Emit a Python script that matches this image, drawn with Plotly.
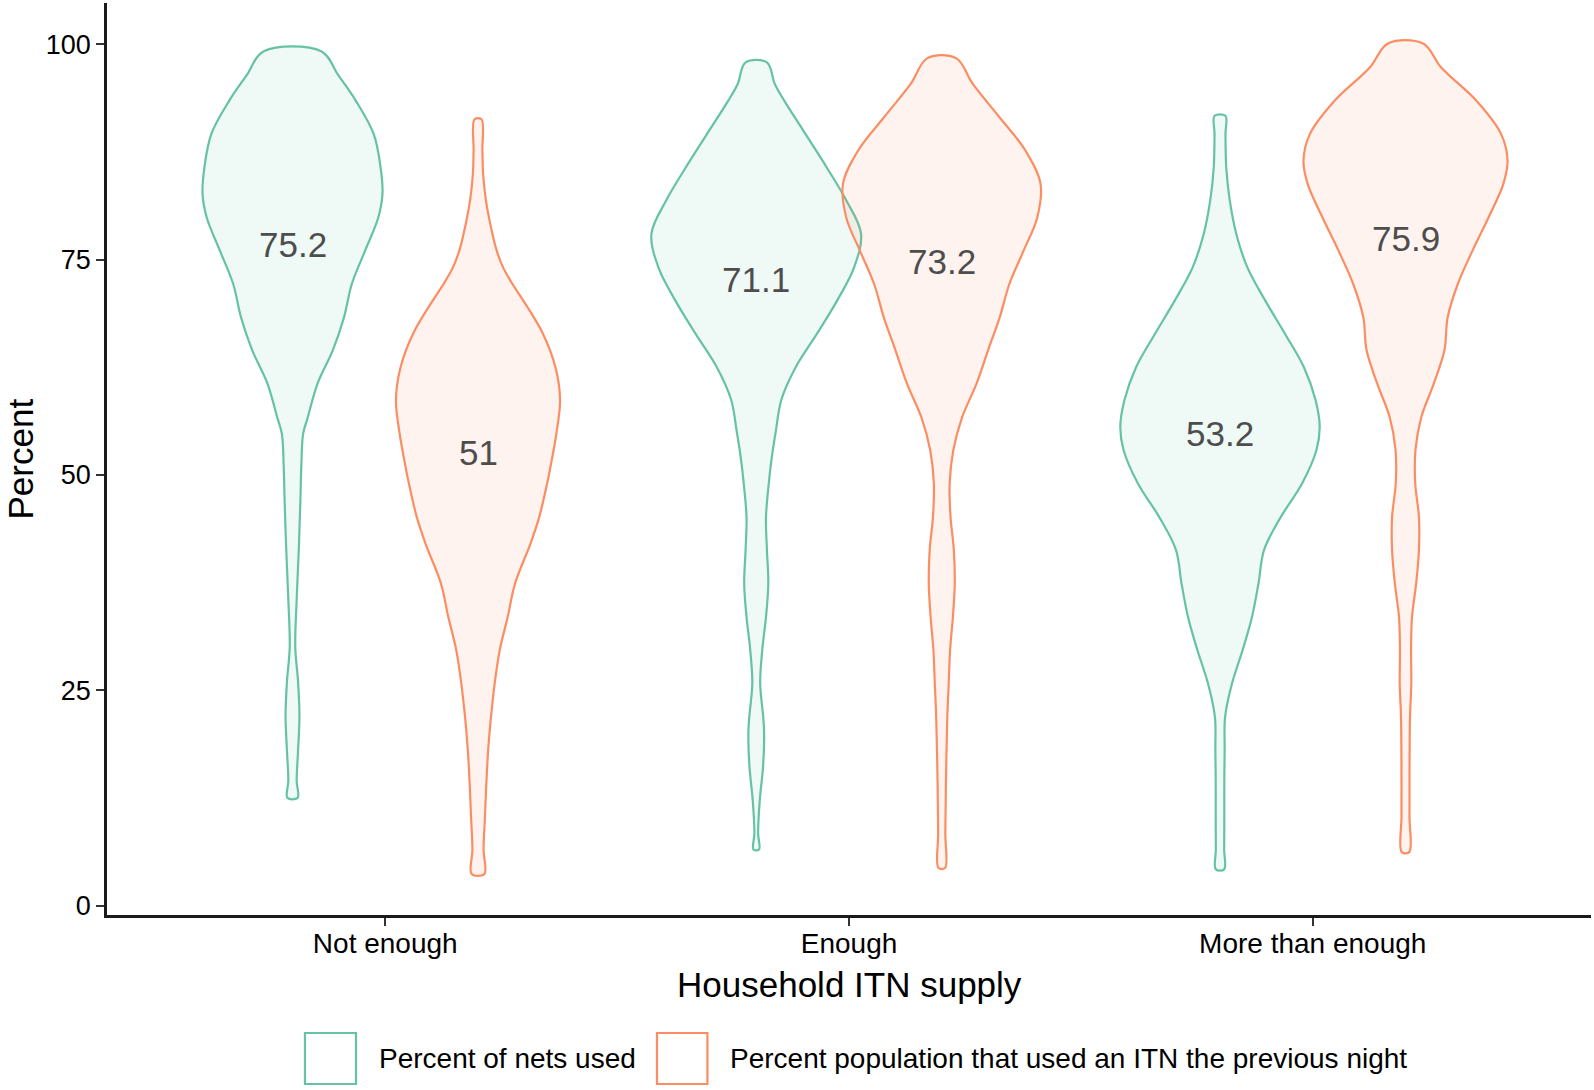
import plotly.graph_objects as go

categories = ["Not enough", "Enough", "More than enough"]
series_names = ["Percent of nets used",
                "Percent population that used an ITN the previous night"]
mean_nets = [75.2, 71.1, 53.2]
mean_pop = [51, 73.2, 75.9]
y_ticks = [0, 25, 50, 75, 100]

# Violin density profiles:
# percent levels (y) and half-width of the violin at that level (x-axis units)
nets_not_enough_y = [12.5, 14.5, 18, 22, 26, 30, 35.5, 41.3, 47, 51, 54.8, 56.7, 60.6,
                     64.5, 68.3, 72.2, 76.1, 79.9, 82.6, 85.7, 89.6, 93.5, 96.4, 99.2]
nets_not_enough_w = [0.011, 0.009, 0.012, 0.015, 0.012, 0.006, 0.009, 0.0135, 0.017, 0.019,
                     0.023, 0.033, 0.054, 0.087, 0.111, 0.128, 0.157, 0.185, 0.194, 0.19,
                     0.175, 0.136, 0.099, 0.062]

pop_not_enough_y = [3.65, 6.5, 10.3, 14.2, 18.1, 21.9, 25.8, 29.7, 33.5, 37.4, 42, 45.1,
                    49, 52.9, 54.8, 58.7, 62.5, 66.4, 70.3, 72.2, 74.1, 76.1, 78, 81.9, 85,
                    87.7, 91.3]
pop_not_enough_w = [0.0136, 0.012, 0.015, 0.018, 0.022, 0.028, 0.036, 0.047, 0.064, 0.08,
                    0.113, 0.132, 0.149, 0.163, 0.169, 0.177, 0.167, 0.14, 0.097, 0.074,
                    0.054, 0.040, 0.031, 0.017, 0.011, 0.0095, 0.0074]

nets_enough_y = [6.5, 8.4, 12.3, 16.1, 20, 21.9, 25.8, 29.7, 33.5, 37.4, 41.3, 45.1, 49,
                 51, 53, 55, 58.7, 62.5, 66.4, 70.3, 74.1, 78, 81.9, 85.7, 89.6, 93.5,
                 95.4, 97.9]
nets_enough_w = [0.006, 0.004, 0.0077, 0.0146, 0.017, 0.015, 0.0085, 0.013, 0.021, 0.026,
                 0.023, 0.021, 0.027, 0.031, 0.036, 0.042, 0.054, 0.085, 0.131, 0.175,
                 0.211, 0.226, 0.194, 0.152, 0.106, 0.06, 0.04, 0.023]

pop_enough_y = [4.35, 8.4, 14.2, 21.9, 25.8, 29.7, 33.5, 37.4, 41.3, 45.1, 49, 52.9, 56.7,
                60.6, 64.5, 68.3, 72.2, 76.1, 79.9, 83.8, 87.7, 91.5, 95.4, 98.4]
pop_enough_w = [0.007, 0.0077, 0.009, 0.012, 0.015, 0.018, 0.024, 0.028, 0.026, 0.019,
                0.017, 0.025, 0.044, 0.075, 0.1, 0.125, 0.146, 0.177, 0.206, 0.213, 0.18,
                0.125, 0.067, 0.031]

nets_more_y = [4.2, 6.5, 10.3, 14.2, 18.1, 21.9, 25.8, 29.7, 33.5, 37.4, 41.3, 45.1, 49,
               52.9, 55.6, 58.7, 62.5, 66.4, 70.3, 74.1, 78, 81.9, 85.7, 89.6, 91.7]
nets_more_w = [0.009, 0.009, 0.0093, 0.0093, 0.01, 0.011, 0.026, 0.049, 0.069, 0.083,
               0.095, 0.131, 0.177, 0.208, 0.215, 0.206, 0.181, 0.14, 0.097, 0.059, 0.035,
               0.021, 0.0135, 0.0118, 0.0118]

pop_more_y = [6.2, 10.3, 14.2, 21.9, 25.8, 29.7, 33.5, 37.4, 41.3, 45.1, 49, 52.9, 56.7,
              60.6, 64.5, 68.3, 72.2, 76.1, 79.9, 83.8, 86.5, 89.6, 93.5, 97.3, 100.1]
pop_more_w = [0.008, 0.0086, 0.0086, 0.0097, 0.0125, 0.012, 0.014, 0.023, 0.029, 0.029,
              0.021, 0.0215, 0.034, 0.061, 0.084, 0.091, 0.113, 0.145, 0.179, 0.211, 0.22,
              0.206, 0.152, 0.077, 0.038]

nets_profiles = [(nets_not_enough_y, nets_not_enough_w),
                 (nets_enough_y, nets_enough_w),
                 (nets_more_y, nets_more_w)]
pop_profiles = [(pop_not_enough_y, pop_not_enough_w),
                (pop_enough_y, pop_enough_w),
                (pop_more_y, pop_more_w)]

line_colors = ["#66C2A5", "#FC8D62"]
fill_colors = ["rgba(102,194,165,0.10)", "rgba(252,141,98,0.10)"]
DODGE = 0.2
FONT = "Liberation Sans, Arial, Helvetica, sans-serif"


def outline(center, ys, ws):
    xs = [center + w for w in ws] + [center - w for w in reversed(ws)] + [center + ws[0]]
    yy = list(ys) + list(reversed(ys)) + [ys[0]]
    return xs, yy


fig = go.Figure()
annotations = []
for s, (profiles, means) in enumerate([(nets_profiles, mean_nets), (pop_profiles, mean_pop)]):
    offset = -DODGE if s == 0 else DODGE
    for i, (ys, ws) in enumerate(profiles):
        center = i + 1 + offset
        xs, yy = outline(center, ys, ws)
        fig.add_trace(go.Scatter(
            x=xs, y=yy, mode="lines", fill="toself",
            fillcolor=fill_colors[s],
            line=dict(color=line_colors[s], width=2.2, shape="spline", smoothing=1.0),
            name=series_names[s], showlegend=False, hoverinfo="skip"))
        annotations.append(dict(
            x=center, y=means[i], xref="x", yref="y", text=str(means[i]),
            showarrow=False, yanchor="bottom", yshift=-8,
            font=dict(family=FONT, size=35, color="#4D4D4D")))

# axis titles
annotations.append(dict(x=0.5, y=-0.053, xref="paper", yref="paper",
                        text="Household ITN supply", showarrow=False,
                        xanchor="center", yanchor="top",
                        font=dict(family=FONT, size=35, color="black")))
annotations.append(dict(x=-108 / 1484, y=0.5, xref="paper", yref="paper",
                        text="Percent", showarrow=False, textangle=-90,
                        xanchor="left", yanchor="middle", borderpad=0,
                        font=dict(family=FONT, size=35, color="black")))

# legend (drawn manually with large square keys)
shapes = []
legend_items = [(0.1334, 0.1678, 0.1819), (0.3706, 0.4046, 0.4185)]
for s, (bx0, bx1, tx) in enumerate(legend_items):
    shapes.append(dict(type="rect", xref="paper", yref="paper",
                       x0=bx0, x1=bx1, y0=-0.1853, y1=-0.1294,
                       line=dict(color=line_colors[s], width=2.2),
                       fillcolor="rgba(255,255,255,0)"))
    annotations.append(dict(x=tx, y=-0.1574, xref="paper", yref="paper",
                            text=series_names[s], showarrow=False,
                            xanchor="left", yanchor="middle",
                            font=dict(family=FONT, size=28, color="black")))

fig.update_layout(
    width=1594, height=1090,
    margin=dict(l=107, r=3, t=3, b=175),
    paper_bgcolor="white", plot_bgcolor="white",
    showlegend=False,
    annotations=annotations, shapes=shapes,
    xaxis=dict(range=[0.4, 3.6], tickvals=[1, 2, 3], ticktext=categories,
               showgrid=False, zeroline=False, showline=True, linecolor="#1a1a1a",
               linewidth=2.5, ticks="outside", ticklen=8, tickwidth=2, tickcolor="#333333",
               ticklabelstandoff=-6,
               tickfont=dict(family=FONT, size=28, color="black")),
    yaxis=dict(range=[-1.1, 104.8], tickvals=y_ticks,
               showgrid=False, zeroline=False, showline=True, linecolor="#1a1a1a",
               linewidth=2.5, ticks="outside", ticklen=8, tickwidth=2, tickcolor="#333333",
               tickfont=dict(family=FONT, size=27, color="black")),
)

fig.write_html("out.html", config={"displayModeBar": False},
               post_script="document.body.style.margin='0';document.body.style.overflow='hidden';")
